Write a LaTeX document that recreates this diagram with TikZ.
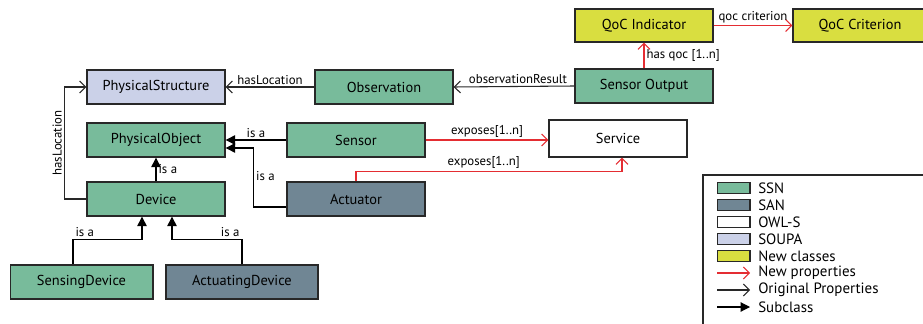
\documentclass[tikz,border=0pt]{standalone}
\usepackage{fontspec}
\setmainfont{PT Sans}
\usetikzlibrary{arrows.meta}

\definecolor{ssn}{RGB}{120,187,155}
\definecolor{san}{RGB}{112,134,148}
\definecolor{soupa}{RGB}{203,209,232}
\definecolor{newcl}{RGB}{217,222,64}
\definecolor{newprop}{RGB}{228,45,50}
\definecolor{edge}{RGB}{40,40,40}

\begin{document}
\begin{tikzpicture}[x=0.75pt,y=-0.75pt,
    cls/.style={draw=edge,line width=1pt,minimum width=103.5pt,minimum height=25.5pt,inner sep=0pt,font=\fontsize{10.8}{12}\selectfont},
    lbl/.style={font=\fontsize{9.6}{11}\selectfont,inner sep=1.5pt},
    prop/.style={draw=edge,line width=0.8pt,-{Straight Barb[length=4.5pt,width=9pt]}},
    newp/.style={prop,draw=newprop},
    subcl/.style={draw=black,line width=0.8pt,-{Triangle[length=7pt,width=7pt]}},
    swatch/.style={draw=edge,line width=1pt,minimum width=24.5pt,minimum height=8.5pt,inner sep=0pt},
    legtxt/.style={anchor=west,inner sep=0pt,font=\fontsize{11.2}{12}\selectfont}]

      \useasboundingbox (0,0) rectangle (923,324);

      % classes
      \node[cls,fill=soupa] (pstruct) at (156,87) {PhysicalStructure};
      \node[cls,fill=ssn] (obs) at (384,87) {Observation};
      \node[cls,fill=ssn] (pobj) at (156,140) {PhysicalObject};
      \node[cls,fill=ssn] (sensor) at (356,140) {Sensor};
      \node[cls,fill=ssn] (dev) at (156,199) {Device};
      \node[cls,fill=san] (act) at (356,199) {Actuator};
      \node[cls,fill=ssn,minimum width=107pt] (sdev) at (81.5,282) {SensingDevice};
      \node[cls,fill=san,minimum width=114pt] (adev) at (242,282) {ActuatingDevice};
      \node[cls,fill=newcl,minimum height=24.75pt] (qind) at (644,25.5) {QoC Indicator};
      \node[cls,fill=newcl,minimum height=24.75pt,minimum width=100.5pt] (qcrit) at (860,25.5) {QoC Criterion};
      \node[cls,fill=ssn] (sout) at (644,86) {Sensor Output};
      \node[cls,fill=white,minimum height=27.75pt] (serv) at (618,138.5) {Service};

      % properties
      \draw[prop] (obs.west) -- node[lbl,above] {hasLocation} (pstruct.east);
      \draw[prop] (sout.west) -- node[lbl,above,xshift=3pt] {observationResult} (obs.east);
      \draw[prop] (dev.west) -- ++(-22,0) |- node[lbl,pos=0.25,sloped,above] {hasLocation} (pstruct.west);
      \draw[newp] (sout.north) -- node[lbl,right] {has qoc [1..n]} (qind.south);
      \draw[newp] (qind.east) -- node[lbl,above] {qoc criterion} (qcrit.west);
      \draw[newp] (sensor.east) -- node[lbl,above] {exposes[1..n]} (serv.west |- sensor.east);
      \draw[newp] (act.north) -- ++(0,-10) -| node[lbl,pos=0.24,above] {exposes[1..n]} ([xshift=3pt]serv.south);

      % subclasses
      \draw[subcl] (sensor.west) -- node[lbl,above] {is a} (pobj.east);
      \draw[subcl] ([yshift=-6pt]act.west) -| node[lbl,pos=0.76,right] {is a} ([xshift=21pt,yshift=-6pt]pobj.east) -- ([yshift=-6pt]pobj.east);
      \draw[subcl] (dev.north) -- node[lbl,right] {is a} (pobj.south);
      \draw[subcl] ([xshift=-6.4pt]sdev.north) -- ++(0,-25) node[lbl,above right] {is a} -| ([xshift=-10.5pt]dev.south);
      \draw[subcl] (adev.north) -- ++(0,-25) node[lbl,above left] {is a} -| ([xshift=12pt]dev.south);

      % legend
      \draw[edge,line width=1pt] (703,175) rectangle (940,340);
      \foreach \c/\t [count=\i] in {ssn/SSN, san/SAN, white/OWL-S, soupa/SOUPA, newcl/New classes}
      {
        \node[swatch,fill=\c] (sw\i) at (733.5,171+17*\i) {};
        \node[legtxt] (lt\i) at (758,171+17*\i) {\t};
      }
      \node[legtxt] (lt6) at (758,273) {New properties};
      \node[legtxt] (lt7) at (758,290) {Original Properties};
      \node[legtxt] (lt8) at (758,307) {Subclass};
      \draw[newp] (717,273) -- (750,273);
      \draw[prop] (717,290) -- (750,290);
      \draw[subcl] (717,307) -- (750,307);

\end{tikzpicture}
\end{document}
